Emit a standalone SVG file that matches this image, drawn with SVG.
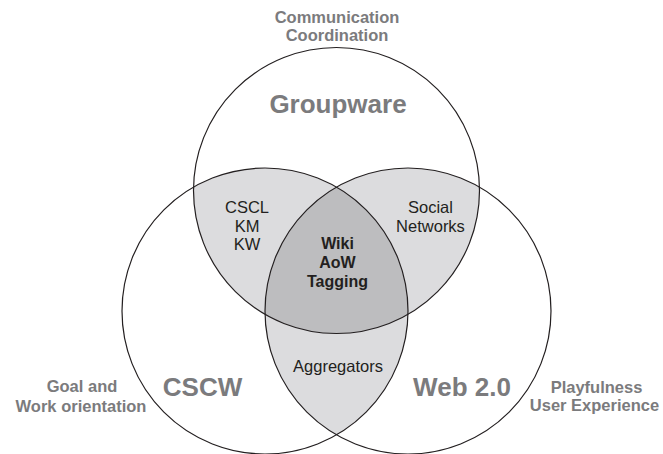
<svg xmlns="http://www.w3.org/2000/svg" width="663" height="454" viewBox="0 0 663 454">
<style>
.ring{fill:none;stroke:#231f20;stroke-width:1.2}
.lt{fill:#dcdcde}
.dk{fill:#bdbdbf}
.lab{font-family:"Liberation Sans",Arial,sans-serif;font-weight:bold;fill:#7b7b7d;text-anchor:middle}
.big{font-family:"Liberation Sans",Arial,sans-serif;font-weight:bold;fill:#7b7b7d;text-anchor:middle;font-size:26px}
.in{font-family:"Liberation Sans",Arial,sans-serif;fill:#231f20;text-anchor:middle;font-size:16.5px}
.inb{font-family:"Liberation Sans",Arial,sans-serif;font-weight:bold;fill:#231f20;text-anchor:middle;font-size:16px}
</style>
<defs>
<clipPath id="cT"><circle cx="336.5" cy="190.5" r="143"/></clipPath>
<clipPath id="cL"><circle cx="265" cy="311" r="143"/></clipPath>
<clipPath id="cR"><circle cx="408" cy="311" r="143"/></clipPath>
</defs>
<rect width="663" height="454" fill="#ffffff"/>
<g id="region-groupware-cscw">
<circle class="lt" cx="265" cy="311" r="143" clip-path="url(#cT)"/>
</g>
<g id="region-groupware-web20">
<circle class="lt" cx="408" cy="311" r="143" clip-path="url(#cT)"/>
</g>
<g id="region-cscw-web20">
<circle class="lt" cx="408" cy="311" r="143" clip-path="url(#cL)"/>
</g>
<g id="region-center">
<g clip-path="url(#cT)"><circle class="dk" cx="408" cy="311" r="143" clip-path="url(#cL)"/></g>
</g>
<g id="groupware">
<circle class="ring" cx="336.5" cy="190.5" r="143"/>
<text class="big" x="338" y="112.5">Groupware</text>
<text class="lab" font-size="16.5" x="337" y="23">Communication</text>
<text class="lab" font-size="16.5" x="337" y="40.5">Coordination</text>
</g>
<g id="cscw">
<circle class="ring" cx="265" cy="311" r="143"/>
<text class="big" x="202.5" y="396">CSCW</text>
<text class="lab" font-size="16.5" x="82" y="392">Goal and</text>
<text class="lab" font-size="16.5" x="81" y="411.5">Work orientation</text>
</g>
<g id="web20">
<circle class="ring" cx="408" cy="311" r="143"/>
<text class="big" x="462" y="396">Web 2.0</text>
<text class="lab" font-size="16.5" x="596.5" y="393">Playfulness</text>
<text class="lab" font-size="16.5" x="594.5" y="411">User Experience</text>
</g>
<g id="label-cscl">
<text class="in" x="247" y="213.3">CSCL</text>
<text class="in" x="247" y="231.7">KM</text>
<text class="in" x="247" y="250">KW</text>
</g>
<g id="label-social">
<text class="in" x="430.5" y="212.7">Social</text>
<text class="in" x="430.5" y="231.7">Networks</text>
</g>
<g id="label-center">
<text class="inb" x="337.5" y="249.3">Wiki</text>
<text class="inb" x="337.5" y="268.3">AoW</text>
<text class="inb" x="337.5" y="287.3">Tagging</text>
</g>
<g id="label-aggregators">
<text class="in" x="338" y="371.7">Aggregators</text>
</g>
</svg>
